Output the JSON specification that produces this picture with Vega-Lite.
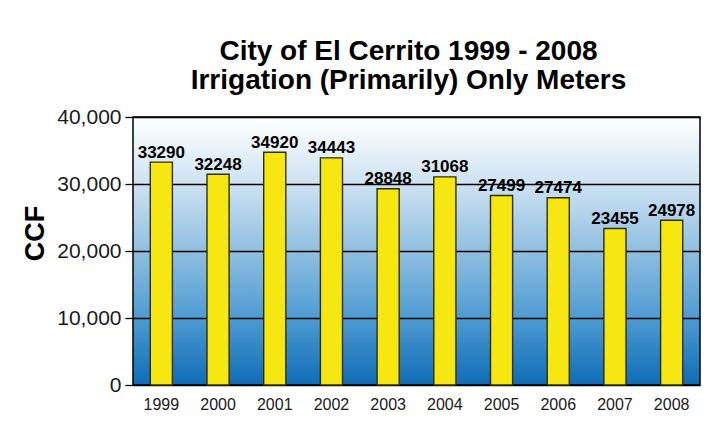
{
  "$schema": "https://vega.github.io/schema/vega-lite/v6.json",
  "width": 567,
  "height": 268,
  "autosize": {"type": "none"},
  "padding": {"left": 133, "top": 117, "right": 10, "bottom": 42},
  "background": "white",
  "title": {
    "text": ["City of El Cerrito 1999 - 2008", "Irrigation (Primarily) Only Meters"],
    "font": "Liberation Sans",
    "fontSize": 28,
    "fontWeight": "bold",
    "color": "#000000",
    "lineHeight": 29,
    "anchor": "middle",
    "dx": -8,
    "offset": 11
  },
  "data": {
    "values": [
      {"year": "1999", "ccf": 33270, "label": "33290"},
      {"year": "2000", "ccf": 31450, "label": "32248"},
      {"year": "2001", "ccf": 34730, "label": "34920"},
      {"year": "2002", "ccf": 33900, "label": "34443"},
      {"year": "2003", "ccf": 29280, "label": "28848"},
      {"year": "2004", "ccf": 31070, "label": "31068"},
      {"year": "2005", "ccf": 28280, "label": "27499"},
      {"year": "2006", "ccf": 27940, "label": "27474"},
      {"year": "2007", "ccf": 23360, "label": "23455"},
      {"year": "2008", "ccf": 24600, "label": "24978"}
    ]
  },
  "encoding": {
    "x": {
      "field": "year",
      "type": "nominal",
      "scale": {"paddingInner": 0.61, "paddingOuter": 0.305},
      "axis": {
        "title": null,
        "labelAngle": 0,
        "labelFont": "Liberation Sans",
        "labelFontSize": 16,
        "labelColor": "#1a1a1a",
        "ticks": false,
        "tickSize": 0,
        "labelPadding": 11,
        "domain": false
      }
    },
    "y": {
      "field": "ccf",
      "type": "quantitative",
      "scale": {"domain": [0, 40000], "nice": false},
      "axis": {
        "title": "CCF",
        "titleFont": "Liberation Sans",
        "titleFontSize": 27,
        "titleFontWeight": "bold",
        "titleColor": "#000000",
        "titleAngle": -90,
        "titleX": -98,
        "titleY": 116,
        "titleAlign": "center",
        "titleBaseline": "middle",
        "values": [0, 10000, 20000, 30000, 40000],
        "format": ",d",
        "labelFont": "Liberation Sans",
        "labelFontSize": 21,
        "labelColor": "#1a1a1a",
        "labelPadding": 4,
        "tickSize": 8,
        "tickColor": "#000000",
        "tickWidth": 1.3,
        "grid": true,
        "gridColor": "#000000",
        "gridWidth": 1.3,
        "domain": false
      }
    }
  },
  "layer": [
    {
      "mark": {"type": "bar", "color": "#F6E713", "stroke": "#2e2e0a", "strokeWidth": 1.4}
    },
    {
      "mark": {
        "type": "text",
        "font": "Liberation Sans",
        "fontSize": 17,
        "fontWeight": "bold",
        "color": "#000000",
        "baseline": "alphabetic",
        "dy": -4.5
      },
      "encoding": {"text": {"field": "label", "type": "nominal"}}
    }
  ],
  "config": {
    "view": {
      "stroke": "#000000",
      "strokeWidth": 1.5,
      "fill": {
        "gradient": "linear",
        "x1": 0, "y1": 0, "x2": 0, "y2": 1,
        "stops": [
          {"offset": 0, "color": "#ffffff"},
          {"offset": 0.25, "color": "#cde2f2"},
          {"offset": 0.5, "color": "#90bfe1"},
          {"offset": 0.75, "color": "#4e9bd2"},
          {"offset": 1, "color": "#0f6cb6"}
        ]
      }
    }
  }
}
